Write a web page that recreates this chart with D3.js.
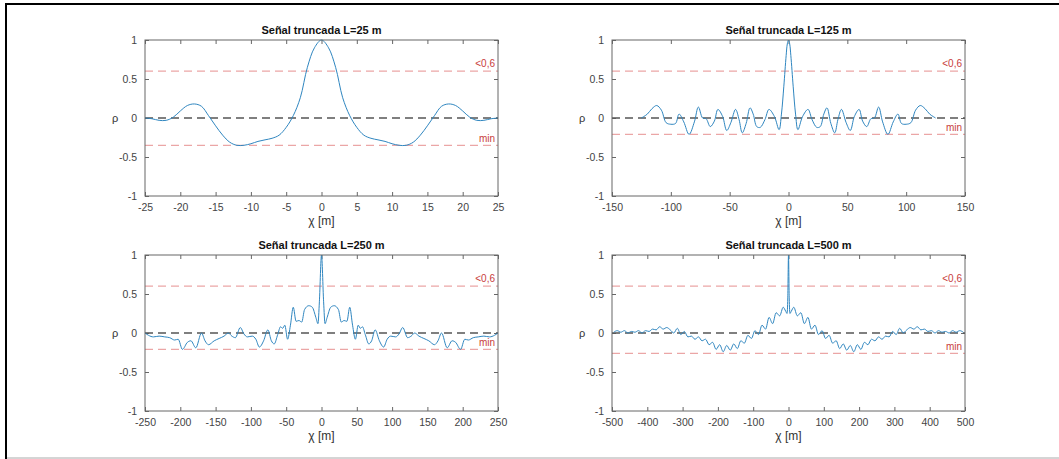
<!DOCTYPE html>
<html>
<head>
<meta charset="utf-8">
<script src="https://cdn.jsdelivr.net/npm/d3@7"></script>
<style>
  body { margin: 0; background: #fff; }
  text { font-family: "Liberation Sans", Arial, sans-serif; }
</style>
</head>
<body>
<div id="chart"></div>
<script>
// panel settings
const lengths = [25, 125, 250, 500];
const xDomains = [[-25, 25], [-150, 150], [-250, 250], [-500, 500]];
const xTickSteps = [5, 50, 50, 100];
const minLevels = [-0.35, -0.21, -0.21, -0.26];
const threshold = 0.6;
const yTicks = [-1, -0.5, 0, 0.5, 1];

// L = 25 m
const x25 = [-25,-24,-23,-22,-21,-20,-19,-18,-17,-16,-15,-14,-13,-12,-11,-10,-9,-8,-7,-6,-5,-4,-3,-2,-1,0,
             1,2,3,4,5,6,7,8,9,10,11,12,13,14,15,16,17,18,19,20,21,22,23,24,25];
const rho25 = [0.0,-0.01,-0.03,-0.03,0.01,0.09,0.16,0.18,0.15,0.03,-0.1,-0.22,-0.31,-0.35,-0.35,-0.33,-0.3,-0.28,-0.26,-0.22,-0.12,0.03,0.26,0.65,0.9,1.0,
               0.9,0.65,0.26,0.03,-0.12,-0.22,-0.26,-0.28,-0.3,-0.33,-0.35,-0.35,-0.31,-0.22,-0.1,0.03,0.15,0.18,0.16,0.09,0.01,-0.03,-0.03,-0.01,0.0];

// L = 125 m
const x125 = [-125,-120,-116,-112,-108,-104,-100,-96,-93,-89,-84.5,-80,-76.6,-73,-70,-66.5,-63,-60,-56,-52.5,-49,-45,-42,-39.3,-36,-32.7,-30,-27,-24,-20,-16.6,-12,-8,-6,-4,-2,-1,0,
              1,2,4,6,8,12,16.6,20,24,27,30,32.7,36,39.3,42,45,49,52.5,56,60,63,66.5,70,73,76.6,80,84.5,89,93,96,100,104,108,112,116,120,125];
const rho125 = [0.0,0.05,0.12,0.16,0.1,-0.06,-0.08,-0.07,0.05,-0.05,-0.21,-0.05,0.14,0.0,-0.01,-0.11,-0.04,0.11,0.02,-0.16,-0.06,0.11,-0.02,-0.19,-0.07,0.13,0.05,-0.11,-0.12,-0.02,0.11,0.02,-0.15,0.05,0.4,0.8,0.95,1.0,
                0.95,0.8,0.4,0.05,-0.15,0.02,0.11,-0.02,-0.12,-0.11,0.05,0.13,-0.07,-0.19,-0.02,0.11,-0.06,-0.16,0.02,0.11,-0.04,-0.11,-0.01,0.0,0.14,-0.05,-0.21,-0.05,0.05,-0.07,-0.08,-0.06,0.1,0.16,0.12,0.05,0.0];

// L = 250 m
const x250 = [-250,-245,-238,-230,-222,-215,-208,-203,-197,-190,-185,-178,-170,-165,-160,-152,-145,-138,-132,-127,-122,-115,-110,-105,-98,-93,-88,-82,-76,-71,-67,-62,-58,-55,-52,-48,-44,-40,-36,-32,-28,-24,-18,-13,-8,-5,-3,0,
              3,5,8,13,18,24,28,32,36,40,44,48,52,55,58,62,67,71,76,82,88,93,98,105,110,115,122,127,132,138,145,152,160,165,170,178,185,190,197,203,208,215,222,230,238,245,250];
const rho250 = [0.0,-0.03,-0.05,-0.04,-0.05,-0.06,-0.09,-0.08,-0.21,-0.12,-0.1,-0.19,0.0,-0.1,-0.15,-0.1,-0.07,-0.04,0.0,-0.04,-0.06,0.07,-0.01,-0.05,-0.04,-0.08,-0.18,-0.1,0.04,-0.1,-0.14,-0.02,0.08,0.06,0.1,-0.08,0.1,0.33,0.15,0.16,0.14,0.3,0.35,0.33,0.2,0.12,0.4,1.0,
                0.4,0.12,0.2,0.33,0.35,0.3,0.14,0.16,0.15,0.33,0.1,-0.08,0.1,0.06,0.08,-0.02,-0.14,-0.1,0.04,-0.1,-0.18,-0.08,-0.04,-0.05,-0.01,0.07,-0.06,-0.04,0.0,-0.04,-0.07,-0.1,-0.15,-0.1,0.0,-0.19,-0.1,-0.12,-0.21,-0.08,-0.09,-0.06,-0.05,-0.04,-0.05,-0.03,0.0];

// L = 500 m
const x500 = [-495,-485,-475,-465,-455,-445,-435,-425,-415,-405,-395,-385,-375,-365,-355,-345,-335,-325,-315,-305,-295,-285,-275,-265,-255,-245,-235,-225,-215,-205,-195,-185,-175,-165,-155,-145,-135,-125,-115,-105,-95,-85,-75,-65,-55,-45,-35,-25,-15,-8,-4,-2,0,
              2,4,8,15,25,35,45,55,65,75,85,95,105,115,125,135,145,155,165,175,185,195,205,215,225,235,245,255,265,275,285,295,305,315,325,335,345,355,365,375,385,395,405,415,425,435,445,455,465,475,485,495];
const rho500 = [0.01,0.03,0.01,0.03,0.0,0.02,0.01,0.03,0.0,0.03,0.02,0.05,0.04,0.08,0.05,0.07,0.04,0.0,0.06,-0.02,0.02,-0.05,-0.04,-0.08,-0.05,-0.1,-0.08,-0.15,-0.12,-0.21,-0.15,-0.24,-0.16,-0.22,-0.14,-0.2,-0.1,-0.13,-0.03,-0.07,0.03,-0.02,0.1,0.05,0.2,0.12,0.26,0.22,0.33,0.28,0.25,0.45,1.0,
                0.45,0.25,0.28,0.33,0.22,0.26,0.12,0.2,0.05,0.1,-0.02,0.03,-0.07,-0.03,-0.13,-0.1,-0.2,-0.14,-0.22,-0.16,-0.24,-0.15,-0.21,-0.12,-0.15,-0.08,-0.1,-0.05,-0.08,-0.04,-0.05,0.02,-0.02,0.06,0.0,0.04,0.07,0.05,0.08,0.04,0.05,0.02,0.03,0.0,0.03,0.01,0.02,0.0,0.03,0.01,0.03,0.01];

const seriesX = [x25, x125, x250, x500];
const seriesRho = [rho25, rho125, rho250, rho500];
// smooth curves for the short signals, plain monotone for the noisy ones
const curves = [d3.curveCatmullRom, d3.curveCatmullRom, d3.curveMonotoneX, d3.curveMonotoneX];

const W = 1059, H = 459;
const colLeft = [145, 612], rowTop = [40, 255];
const pw = 353, ph = 156;

const svg = d3.select("#chart").append("svg")
    .attr("width", W).attr("height", H)
    .style("display", "block");

svg.append("rect").attr("width", W).attr("height", H).attr("fill", "#fff");

// outer frame
svg.append("line").attr("x1", 5).attr("x2", W).attr("y1", 4).attr("y2", 4)
    .attr("stroke", "#000").attr("stroke-width", 2);
svg.append("line").attr("x1", 6).attr("x2", 6).attr("y1", 3).attr("y2", H)
    .attr("stroke", "#000").attr("stroke-width", 2);
svg.append("line").attr("x1", 7).attr("x2", W).attr("y1", 458).attr("y2", 458)
    .attr("stroke", "#aaa").attr("stroke-width", 1);

lengths.forEach((L, i) => {
    const left = colLeft[i % 2], top = rowTop[Math.floor(i / 2)];
    const g = svg.append("g").attr("transform", `translate(${left},${top})`);

    const x = d3.scaleLinear().domain(xDomains[i]).range([0, pw]);
    const y = d3.scaleLinear().domain([-1, 1]).range([ph, 0]);
    const xt = d3.range(xDomains[i][0], xDomains[i][1] + 1e-9, xTickSteps[i]);

    // ticks inside, on all four sides
    const fmt = d => String(d);
    const axB = d3.axisBottom(x).tickValues(xt).tickSize(-4).tickPadding(8).tickFormat(fmt);
    const axT = d3.axisTop(x).tickValues(xt).tickSize(-4).tickFormat("");
    const axL = d3.axisLeft(y).tickValues(yTicks).tickSize(-4).tickPadding(8).tickFormat(fmt);
    const axR = d3.axisRight(y).tickValues(yTicks).tickSize(-4).tickFormat("");

    const style = sel => {
        sel.select(".domain").remove();
        sel.selectAll(".tick line").attr("stroke", "#666");
        sel.selectAll(".tick text").attr("fill", "#444").style("font-size", "10.5px")
            .style("font-family", "'Liberation Sans', Arial, sans-serif");
    };
    g.append("g").attr("transform", `translate(0,${ph})`).call(axB).call(style);
    g.append("g").call(axT).call(style);
    g.append("g").call(axL).call(style);
    g.append("g").attr("transform", `translate(${pw},0)`).call(axR).call(style);

    // reference lines
    g.append("line").attr("x1", 0).attr("x2", pw).attr("y1", y(threshold)).attr("y2", y(threshold))
        .attr("stroke", "#eba6a6").attr("stroke-width", 1.3).attr("stroke-dasharray", "8,5");
    g.append("line").attr("x1", 0).attr("x2", pw).attr("y1", y(minLevels[i])).attr("y2", y(minLevels[i]))
        .attr("stroke", "#eba6a6").attr("stroke-width", 1.3).attr("stroke-dasharray", "8,5");
    g.append("line").attr("x1", 0).attr("x2", pw).attr("y1", y(0)).attr("y2", y(0))
        .attr("stroke", "#555").attr("stroke-width", 1.3).attr("stroke-dasharray", "8,5");

    // the signal
    const pts = seriesX[i].map((v, k) => [v, seriesRho[i][k]]);
    g.append("path").datum(pts)
        .attr("fill", "none").attr("stroke", "#2f86c0").attr("stroke-width", 1)
        .attr("d", d3.line().x(d => x(d[0])).y(d => y(d[1])).curve(curves[i]));

    // labels on the lines
    g.append("text").attr("x", pw - 3).attr("y", y(threshold) - 4)
        .attr("text-anchor", "end").attr("fill", "#c83c3c").style("font-size", "10px").text("<0,6");
    g.append("text").attr("x", pw - 3).attr("y", y(minLevels[i]) - 3)
        .attr("text-anchor", "end").attr("fill", "#c83c3c").style("font-size", "10px").text("min");

    // box
    g.append("rect").attr("width", pw).attr("height", ph)
        .attr("fill", "none").attr("stroke", "#666").attr("stroke-width", 1);

    g.append("text").attr("x", pw / 2).attr("y", -6).attr("text-anchor", "middle")
        .style("font-size", "11px").style("font-weight", "bold").attr("fill", "#111")
        .text(`Señal truncada L=${L} m`);
    g.append("text").attr("x", pw / 2).attr("y", ph + 29).attr("text-anchor", "middle")
        .style("font-size", "12px").attr("fill", "#333").text("χ [m]");
    g.append("text").attr("x", -30).attr("y", y(0) + 4).attr("text-anchor", "middle")
        .style("font-size", "11px").attr("fill", "#333").text("ρ");
});
</script>
</body>
</html>
